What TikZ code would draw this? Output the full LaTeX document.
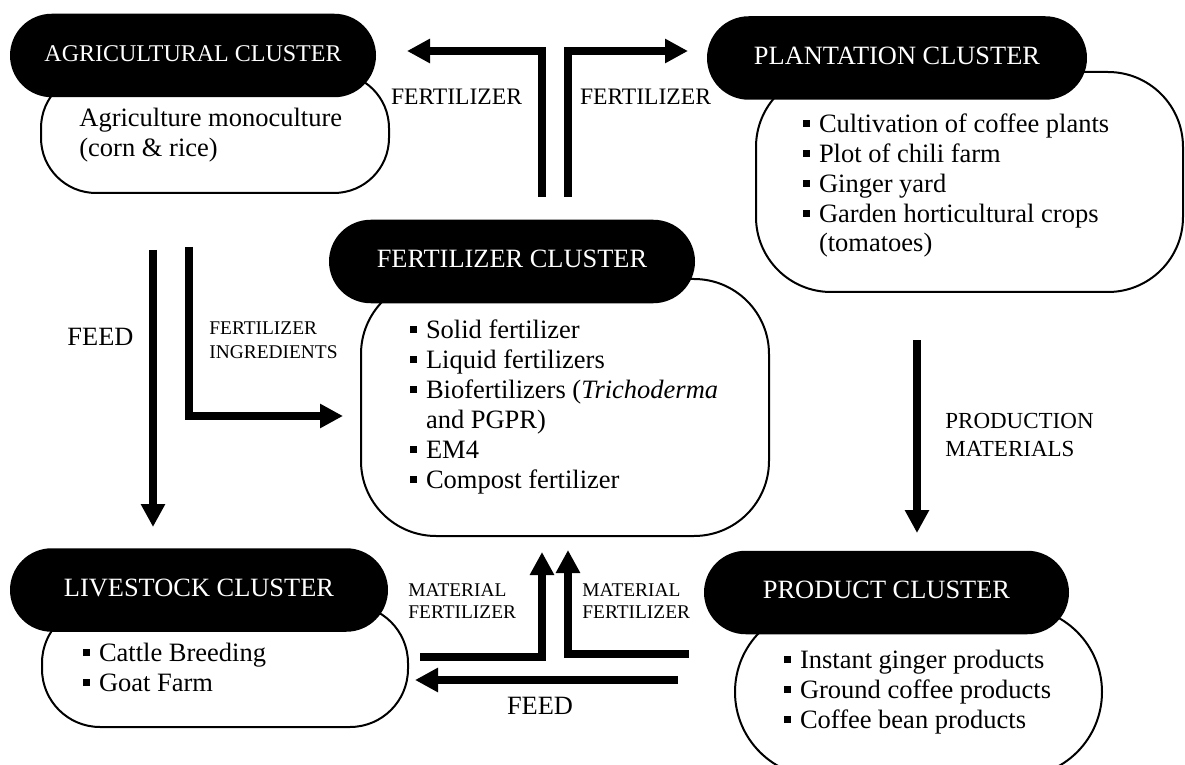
\documentclass[tikz,border=0pt]{standalone}
\usepackage{fontspec}
\setmainfont{Liberation Serif}
\usetikzlibrary{arrows.meta}
\usetikzlibrary{shapes.misc}
\newcommand{\bul}{\rule[2.5pt]{3.3pt}{3.3pt}\hspace{4.5pt}}
\newcommand{\ind}{\hspace*{7.8pt}}

\begin{document}
\begin{tikzpicture}[x=0.5pt,y=-0.5pt,
  head/.style={rounded rectangle,fill=black,text=white,inner sep=0pt,minimum height=41.75pt,text height=8.8pt,text depth=2.5pt,font=\fontsize{13.2}{15}\selectfont},
  body/.style={draw=black,fill=white,line width=1pt},
  items/.style={anchor=base west,align=left,inner sep=0pt,font=\fontsize{13.25}{15}\selectfont},
  flow/.style={line width=4pt,-{Triangle[width=11.5pt,length=11.5pt]}},
  tag/.style={inner sep=0pt,anchor=base,font=\fontsize{11.8}{14}\selectfont},
  smalltag/.style={inner sep=0pt,anchor=base west,align=left,font=\fontsize{9.7}{12}\selectfont}]
\useasboundingbox (0,0) rectangle (1185,765);

% the lists are placed by the baseline of their last line
\draw[body,rounded corners=27.5pt] (41,73) rectangle (389,193);
\node[head,minimum width=183pt,font=\fontsize{12}{14}\selectfont] (agri) at (193,55.5) {AGRICULTURAL CLUSTER};
\node[items] (agrilist) at (79,157) {Agriculture monoculture\\(corn \& rice)};

\draw[body,rounded corners=37.5pt] (756,72) rectangle (1183,292);
\node[head,minimum width=190pt] (plant) at (897,58) {PLANTATION CLUSTER};
\node[items] (plantlist) at (803,252) {\bul Cultivation of coffee plants\\\bul Plot of chili farm\\\bul Ginger yard\\\bul Garden horticultural crops\\\ind(tomatoes)};

\draw[body,rounded corners=37.5pt] (361,279) rectangle (769,536);
\node[head,minimum width=183pt] (fert) at (512,261.5) {FERTILIZER CLUSTER};
\node[items] (fertlist) at (410,488) {\bul Solid fertilizer\\\bul Liquid fertilizers\\\bul Biofertilizers (\textit{Trichoderma}\\\ind and PGPR)\\\bul EM4\\\bul Compost fertilizer};

\draw[body,rounded corners=29pt] (42,605) rectangle (408,727);
\node[head,minimum width=189pt] (live) at (199,590) {LIVESTOCK CLUSTER};
\node[items] (livelist) at (83,691) {\bul Cattle Breeding\\\bul Goat Farm};

\draw[body,rounded corners=42.5pt] (735,607) rectangle (1102,777);
\node[head,minimum width=182.5pt] (prod) at (886.5,592.5) {PRODUCT CLUSTER};
\node[items] (prodlist) at (784,728) {\bul Instant ginger products\\\bul Ground coffee products\\\bul Coffee bean products};

% fertilizer out to the top clusters
\coordinate (up0) at (542,197);
\coordinate (up1) at (542,51);
\coordinate (up2) at (407,51);
\draw[flow] (up0) -- (up1) -- (up2);
\coordinate (ur0) at (568,197);
\coordinate (ur1) at (568,51);
\coordinate (ur2) at (688,51);
\draw[flow] (ur0) -- (ur1) -- (ur2);
\node[tag] (fertl) at (456.5,105) {FERTILIZER};
\node[tag] (fertr) at (645.5,105) {FERTILIZER};

% agriculture to livestock and fertilizer
\coordinate (fd0) at (153,250);
\coordinate (fd1) at (153,527);
\draw[flow] (fd0) -- (fd1);
\node[tag,font=\fontsize{13.2}{15}\selectfont] (feedl) at (100.5,345) {FEED};
\coordinate (in0) at (189,247);
\coordinate (in1) at (189,416);
\coordinate (in2) at (343,416);
\draw[flow] (in0) -- (in1) -- (in2);
\node[smalltag] (ingr) at (209,358) {FERTILIZER\\INGREDIENTS};

% plantation to product
\coordinate (pm0) at (917,340);
\coordinate (pm1) at (917,533);
\draw[flow] (pm0) -- (pm1);
\node[smalltag,font=\fontsize{11.5}{14}\selectfont] (prodmat) at (945,456) {PRODUCTION\\MATERIALS};

% bottom exchanges
\coordinate (ml0) at (420,657);
\coordinate (ml1) at (542,657);
\coordinate (ml2) at (542,552);
\draw[flow] (ml0) -- (ml1) -- (ml2);
\coordinate (mr0) at (689,654);
\coordinate (mr1) at (568,654);
\coordinate (mr2) at (568,550);
\draw[flow] (mr0) -- (mr1) -- (mr2);
\node[smalltag,font=\fontsize{9.7}{11}\selectfont] (matl) at (408,618) {MATERIAL\\FERTILIZER};
\node[smalltag,font=\fontsize{9.7}{11}\selectfont] (matr) at (582,618) {MATERIAL\\FERTILIZER};
\coordinate (fb0) at (678,680);
\coordinate (fb1) at (415,680);
\draw[flow] (fb0) -- (fb1);
\node[tag,font=\fontsize{13.2}{15}\selectfont] (feedb) at (540,714) {FEED};

\end{tikzpicture}
\end{document}
